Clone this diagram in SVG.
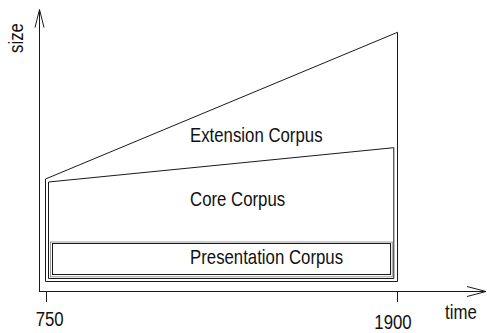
<svg xmlns="http://www.w3.org/2000/svg" width="487" height="333" viewBox="0 0 487 333">
<style>
.ln{fill:none;stroke:#1a1a1a;stroke-width:1}
.gr{fill:none;stroke:#9a9a9a;stroke-width:1}
.t{font-family:"Liberation Sans",Arial,Helvetica,sans-serif;font-size:16.8px;fill:#111}
</style>
<rect width="487" height="333" fill="#fff"/>
<g id="connectors">
<polyline class="ln" points="39.5,292 39.5,10"/>
<polyline class="ln" points="35,27.5 39.5,9.5 44,27.5"/>
<polyline class="ln" points="39.5,291.5 486,291.5"/>
<polyline class="ln" points="467,286.5 486,291.5 467,296.5"/>
<line class="ln" x1="46.5" y1="291.5" x2="46.5" y2="302"/>
<line class="ln" x1="397.5" y1="291.5" x2="397.5" y2="302"/>
</g>
<g id="extension-corpus">
<polygon class="ln" points="45.5,179 397.5,32.3 397.5,281.5 45.5,281.5"/>
<text class="t" transform="translate(190,141.7) scale(1,1.15)">Extension Corpus</text>
</g>
<g id="core-corpus">
<polygon class="ln" points="48.5,182 393.8,147.7 393.8,278.5 48.5,278.5"/>
<text class="t" transform="translate(190,206) scale(1,1.15)">Core Corpus</text>
</g>
<g id="presentation-corpus">
<rect class="gr" x="50.5" y="242" width="341.8" height="34.8"/>
<rect class="ln" x="52.5" y="243.5" width="338" height="31"/>
<text class="t" transform="translate(190,264) scale(1,1.15)">Presentation Corpus</text>
</g>
<g id="axis-labels">
<text class="t" text-anchor="middle" transform="translate(23.3,38) rotate(-90) scale(1,1.15)">size</text>
<text class="t" transform="translate(445,319) scale(1,1.15)">time</text>
<text class="t" text-anchor="middle" transform="translate(49.7,326) scale(1,1.15)">750</text>
<text class="t" text-anchor="middle" transform="translate(393,328.8) scale(1,1.15)">1900</text>
</g>
</svg>
